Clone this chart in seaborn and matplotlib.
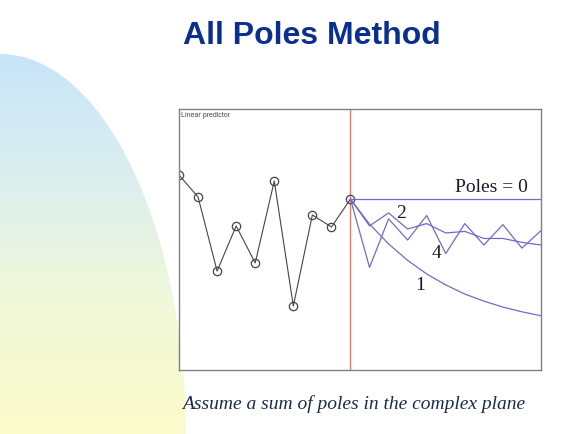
import numpy as np
import matplotlib
matplotlib.use("Agg")
import matplotlib.pyplot as plt
from matplotlib.colors import LinearSegmentedColormap
from matplotlib.patches import Ellipse
import seaborn as sns

# observed samples (index 0..9) and the predictions that start at sample 9
past_x = [0, 1, 2, 3, 4, 5, 6, 7, 8, 9]
past_values = [7.47, 6.63, 3.79, 5.52, 4.10, 7.24, 2.45, 5.94, 5.48, 6.55]

future_x = [9, 10, 11, 12, 13, 14, 15, 16, 17, 18, 19]
pred_poles0 = [6.55, 6.55, 6.55, 6.55, 6.55, 6.55, 6.55, 6.55, 6.55, 6.55, 6.55]
pred_poles1 = [6.55, 5.59, 4.83, 4.20, 3.68, 3.26, 2.91, 2.64, 2.41, 2.23, 2.08]
pred_poles2 = [6.55, 5.52, 6.02, 5.40, 5.61, 5.25, 5.31, 5.04, 5.04, 4.89, 4.79]
pred_poles4 = [6.55, 3.93, 5.79, 4.98, 5.92, 4.46, 5.61, 4.79, 5.57, 4.67, 5.34]

curve_labels = ["2", "4", "1"]
label_x = [11.68, 13.53, 12.68]
label_y = [6.05, 4.52, 3.26]

sns.set_style("white")
plt.rcParams["font.family"] = ["Liberation Sans", "DejaVu Sans"]

fig = plt.figure(figsize=(5.8, 4.35), dpi=100)
fig.patch.set_facecolor("white")

# slide background blob on the left
bg = fig.add_axes([0, 0, 1, 1], zorder=0)
bg.set_xlim(0, 580)
bg.set_ylim(435, 0)
bg.axis("off")
cmap = LinearSegmentedColormap.from_list("slide", ["#c6e4fa", "#dcefef", "#f1f8d8", "#fcfccb"])
img = bg.imshow(np.linspace(0, 1, 256).reshape(-1, 1), extent=[0, 190, 435, 50],
                aspect="auto", cmap=cmap)
blob = Ellipse((0, 440), 372, 770, transform=bg.transData, facecolor="none", edgecolor="none")
bg.add_patch(blob)
img.set_clip_path(blob)

fig.text(312 / 580, 1 - 36 / 435, "All Poles Method",
         family=["Liberation Sans Narrow", "Liberation Sans"], fontweight="bold",
         fontsize=23, color="#0b2f8f", ha="center", va="center")

fig.text(354 / 580, 1 - 404 / 435, "Assume a sum of poles in the complex plane",
         family=["Liberation Serif", "DejaVu Serif"], style="italic",
         fontsize=14, color="#1c2a4a", ha="center", va="center")

ax = fig.add_axes([179 / 580, 1 - 371 / 435, 362 / 580, 261 / 435], zorder=1)
ax.set_facecolor("white")

sns.lineplot(x=past_x, y=past_values, ax=ax, color="#454545", linewidth=0.8,
             marker="o", markersize=6, markerfacecolor="none",
             markeredgecolor="#454545", markeredgewidth=0.9)

for series in [pred_poles0, pred_poles1, pred_poles2, pred_poles4]:
    sns.lineplot(x=future_x, y=series, ax=ax, color="#6d6dcc", linewidth=0.9)

ax.axvline(9, color="#e27a7a", linewidth=1.0, zorder=0)

ax.text(18.3, 7.02, "Poles = 0", family=["Liberation Serif", "DejaVu Serif"],
        fontsize=14, color="#1a1a2a", ha="right", va="center")
for lab, lx, ly in zip(curve_labels, label_x, label_y):
    ax.text(lx, ly, lab, family=["Liberation Serif", "DejaVu Serif"],
            fontsize=14, color="#1a1a2a", ha="center", va="center")

ax.text(0.006, 0.992, "Linear predictor", transform=ax.transAxes, fontsize=5,
        color="#444444", ha="left", va="top")

ax.set_xlim(0, 19)
ax.set_ylim(0, 10)
ax.set_xticks([])
ax.set_yticks([])
ax.set_xlabel("")
ax.set_ylabel("")
for spine in ax.spines.values():
    spine.set_color("#808080")
    spine.set_linewidth(1.0)

fig.savefig("out.png", dpi=100)
